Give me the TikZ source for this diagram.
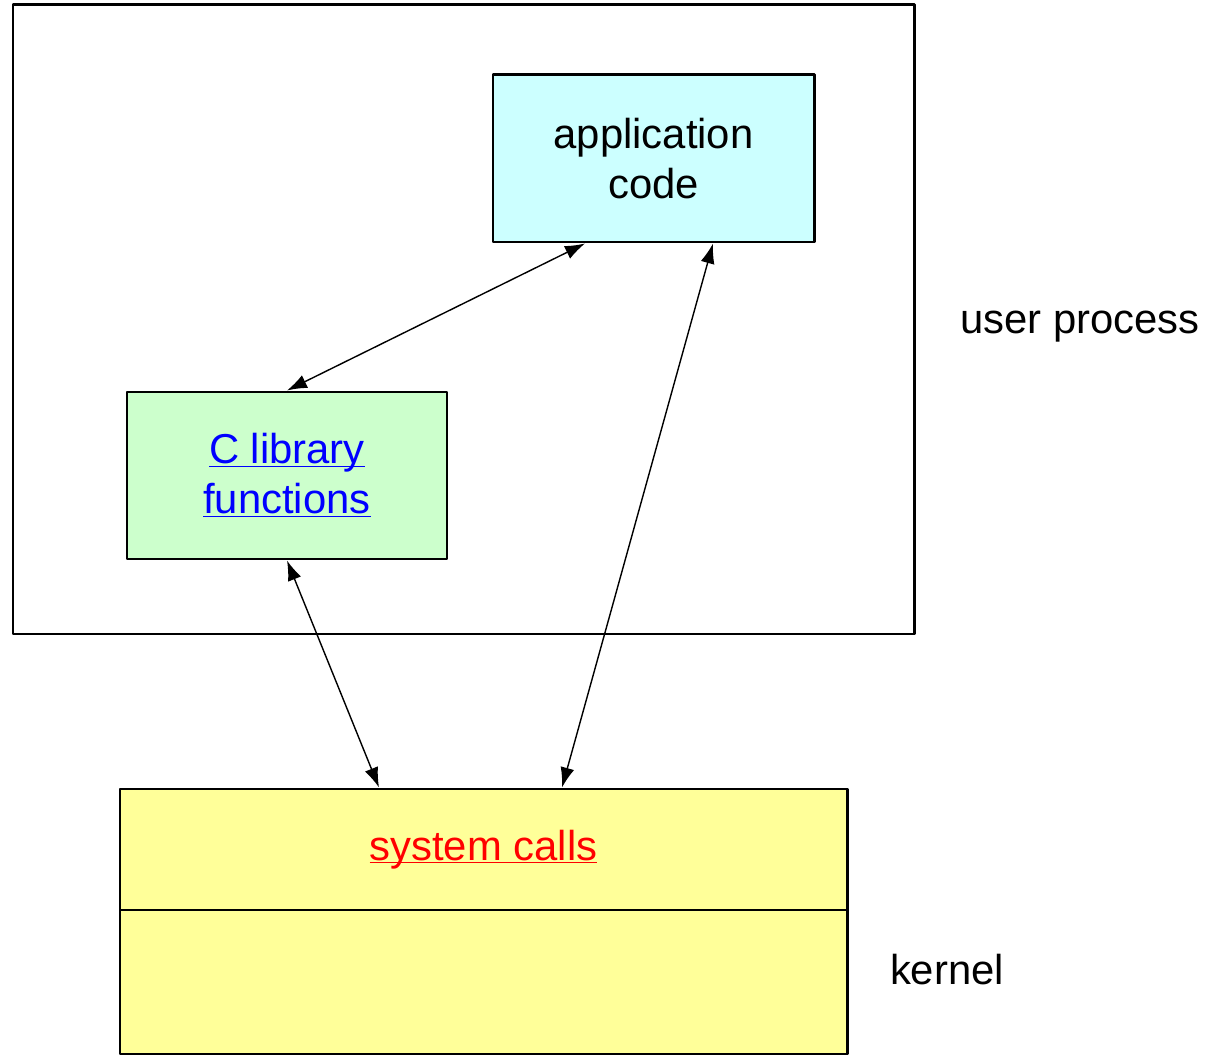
\documentclass[tikz,border=0pt]{standalone}
\usepackage{fontspec}
\setmainfont{Liberation Sans}
\usetikzlibrary{arrows.meta}
\definecolor{appcyan}{HTML}{CCFFFF}
\definecolor{libgreen}{HTML}{CCFFCC}
\definecolor{kernyellow}{HTML}{FFFF99}
\newcommand{\ulink}[1]{\underline{\smash{#1}}\vphantom{#1}}
\begin{document}
\begin{tikzpicture}[line join=round, >={Latex[length=4mm,width=2.8mm]},
	font=\fontsize{23.8}{28.4}\selectfont,
	box/.style={draw, line width=1.7pt, inner sep=0pt, align=center},
	link/.style={<->, line width=0.8pt}]
	\useasboundingbox (0,0) rectangle (24.18,21.12);
	\path
	(0.26,8.44) coordinate (P1)
	(18.28,21.02) coordinate (P2)
	(13.07,17.95) coordinate (A)
	(5.74,11.61) coordinate (L)
	(9.67,4.13) coordinate (S)
	(9.67,1.48) coordinate (K)
	;
	\draw[line width=1.7pt] (P1) rectangle (P2);
	\node[box, fill=appcyan, minimum width=6.42cm, minimum height=3.34cm] (app) at (A) {application\\code};
	\node[box, fill=libgreen, minimum width=6.4cm, minimum height=3.34cm, text=blue] (clib) at (L) {\ulink{C library}\\\ulink{functions}};
	\node[box, fill=kernyellow, minimum width=14.54cm, minimum height=2.88cm] (kern) at (K) {};
	\node[box, fill=kernyellow, minimum width=14.54cm, minimum height=2.42cm, text=red] (sys) at (S) {\ulink{system calls}};
	\node (user) at (21.6,14.58) {user process};
	\node (kernel) at (18.94,1.72) {kernel};
	\draw[link] ([xshift=-1.37cm]app.south) -- (clib.north);
	\draw[link] ([xshift=1.19cm]app.south) -- ([xshift=1.57cm]sys.north);
	\draw[link] (clib.south) -- ([xshift=-2.09cm]sys.north);
\end{tikzpicture}
\end{document}
